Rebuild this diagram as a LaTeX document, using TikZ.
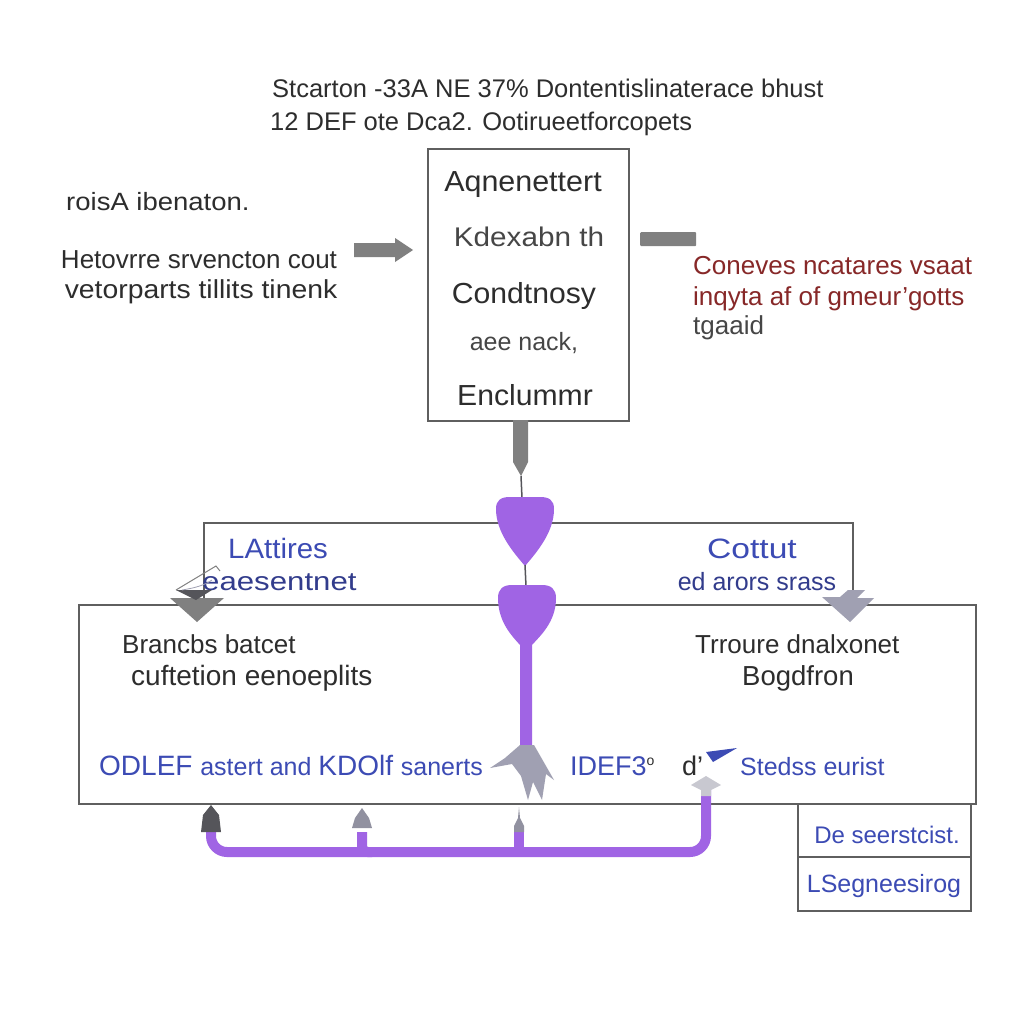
\documentclass[tikz,border=0pt]{standalone}
\usepackage{fontspec}
\setmainfont{Liberation Sans}
\usetikzlibrary{calc}
\definecolor{txt}{RGB}{45,45,45}
\definecolor{txtl}{RGB}{70,70,70}
\definecolor{bord}{RGB}{95,95,95}
\definecolor{blu}{RGB}{60,75,180}
\definecolor{bludk}{RGB}{50,60,140}
\definecolor{redt}{RGB}{135,40,40}
\definecolor{purp}{RGB}{160,100,228}
\definecolor{garr}{RGB}{128,128,128}
\definecolor{garl}{RGB}{160,160,178}
\definecolor{gard}{RGB}{85,85,90}
\definecolor{garp}{RGB}{200,200,208}
\tikzset{
  box/.style={draw=bord,line width=1.8pt,inner sep=0pt,anchor=north west},
  tl/.style={inner sep=0pt,anchor=base west,text=txt},
  tc/.style={inner sep=0pt,anchor=base,text=txt},
  purpline/.style={draw=purp,line width=10pt},
  thin/.style={draw=bord,line width=1.5pt},
}
\newcommand\fs[1]{\fontsize{#1}{#1}\selectfont}
\newcommand\sx[2]{\scalebox{#1}[1]{#2}}
\begin{document}
\begin{tikzpicture}[x=1pt,y=-1pt]
\useasboundingbox (0,0) rectangle (1024,1024);
\fill[white] (0,0) rectangle (1024,1024);

% title
\node[tl] (t1) at (272,98) {\fs{25.5}Stcarton -33A NE 37\% Dontentislinaterace bhust};
\node[tl] (t2) at (270,131) {\fs{25.5}12 DEF ote Dca2. Ootirueetforcopets};

% top box
\node[box,minimum width=201pt,minimum height=272pt] (topbox) at (427,148) {};
\node[tc] (a1) at (523,192) {\fs{29}\sx{1.05}{Aqnenettert}};
\node[tc,text=txtl] (a2) at (529,247) {\fs{27}\sx{1.1}{Kdexabn th}};
\node[tc] (a3) at (524,303) {\fs{29}\sx{1.04}{Condtnosy}};
\node[tc,text=txtl] (a4) at (524,350) {\fs{25}aee nack,};
\node[tc] (a5) at (525,405) {\fs{29}\sx{1.04}{Enclummr}};

% left texts
\node[tl] (l1) at (66,211) {\fs{25}\sx{1.1}{roisA ibenaton.}};
\node[tc] (l2) at (199,268) {\fs{26}Hetovrre srvencton cout};
\node[tc] (l3) at (201,298) {\fs{26}\sx{1.09}{vetorparts tillits tinenk}};
\coordinate (arrS) at (354,250);
\fill[garr] (arrS) ++(0,-7) -- ++(41,0) -- ++(0,-5) -- (413,250) -- (395,262) -- (395,257) -- (354,257) -- cycle;

% right bar and red texts
\node[fill=garr,minimum width=56pt,minimum height=14pt,inner sep=0pt,rounded corners=1pt,anchor=north west] (rbar) at (640,232) {};
\node[tl,text=redt] (r1) at (693,274) {\fs{26}Coneves ncatares vsaat};
\node[tl,text=redt] (r2) at (693,305) {\fs{26}inqyta af of gmeur'gotts};
\node[tl,text=txtl] (r3) at (693,334) {\fs{26}tgaaid};

% middle box and lower box
\node[box,minimum width=649pt,minimum height=82pt] (midbox) at (203,522) {};
\node[box,minimum width=897pt,minimum height=199pt] (lowbox) at (78,604) {};
\node[box,minimum width=173pt,minimum height=107pt] (tabbox) at (797,803) {};
\draw[thin] (tabbox.west |- 0,857) coordinate (tdl) -- (tdl -| tabbox.east);

% connector from top box down to purple shapes
\fill[garr] (513,420) -- (528,420) -- (528,462) -- (521,476) -- (513,462) -- cycle;
\draw[line width=1.5pt,draw=gard] (521,476) -- (522,498);

% purple shape 1
\fill[purp] (496,509) .. controls (496,500) and (501,497) .. (510,497) -- (540,497)
  .. controls (549,497) and (554,500) .. (554,509)
  .. controls (554,532) and (537,552) .. (525,566)
  .. controls (513,552) and (496,532) .. (496,509) -- cycle;
\draw[line width=1.5pt,draw=gard] (525,565) -- (526,586);
% purple shape 2 with stem
\fill[purp] (498,598) .. controls (498,589) and (503,585) .. (512,585) -- (542,585)
  .. controls (551,585) and (556,589) .. (556,598)
  .. controls (556,622) and (540,636) .. (532,645) -- (532,748) -- (520,748) -- (520,645)
  .. controls (512,636) and (498,622) .. (498,598) -- cycle;
% gray crown arrow at stem end
\fill[garl] (520,745) -- (534,745) -- (554,780) -- (546,774) -- (542,800) -- (533,782) -- (528,800) -- (521,776) -- (512,764) -- (490,768) -- (505,758) -- cycle;

% middle box texts
\node[tl,text=blu] (m1) at (228,558) {\fs{28}\sx{1.05}{LAttires}};
\node[tl,text=bludk] (m2) at (202,590) {\fs{26}\sx{1.2}{eaesentnet}};
\node[tc,text=blu] (m3) at (752,558) {\fs{28}\sx{1.2}{Cottut}};
\node[tc,text=bludk] (m4) at (757,590) {\fs{25}ed arors srass};

% down triangles between middle and lower box
\fill[garr] (170,598) -- (224,598) -- (197,622) -- cycle;
\fill[gard] (176,590) -- (212,590) -- (196,600) -- cycle;
\draw[line width=1pt,draw=garr] (176,590) -- (216,566) -- (220,571);
\draw[line width=0.8pt,draw=garl] (182,590) .. controls (195,588) and (205,585) .. (212,580);
\fill[garl] (822,597) -- (840,597) -- (848,590) -- (865,590) -- (857,598) -- (874,598) -- (850,622) -- cycle;

% lower box texts
\node[tl] (b1) at (122,653) {\fs{26}Brancbs batcet};
\node[tl] (b2) at (131,685) {\fs{28}cuftetion eenoeplits};
\node[tl] (b3) at (695,653) {\fs{26}Trroure dnalxonet};
\node[tc] (b4) at (798,685) {\fs{27.5}Bogdfron};
\node[tl,text=blu] (b5) at (99,775) {\fs{28}ODLEF \fs{25}astert and \fs{28}KDOlf \fs{25}sanerts};
\node[tl,text=blu] (b6) at (570,775) {\fs{27}IDEF3\textsuperscript{\fs{14}\textcolor{txt}{o}}\quad\textcolor{txt}{d'}};
\fill[blu] (706,752) -- (737,748) -- (713,762) -- cycle;
\node[tl,text=blu] (b7) at (740,775) {\fs{25}Stedss eurist};

% table texts
\node[tc,text=blu] (d1) at (887,843) {\fs{24}De seerstcist.};
\node[tc,text=blu] (d2) at (884,892) {\fs{25}LSegneesirog};

% bottom purple connector
\coordinate (q0) at (211,832);
\coordinate (q1) at (362,832);
\coordinate (q2) at (519,832);
\coordinate (q3) at (706,790);
\draw[purpline,rounded corners=16pt] (q3) -- (706,852) -- (211,852) -- (q0);
\draw[purpline,rounded corners=6pt] (q1) -- (362,852) -- (372,852);
\draw[purpline] (q2) -- (519,850);
% arrowheads
\fill[gard] (201,832) -- (203,815) -- (211,805) -- (219,815) -- (221,832) -- cycle;
\fill[garl!80!gard] (352,828) -- (355,818) -- (362,808) -- (369,818) -- (372,828) -- cycle;
\fill[garl!80!gard] (514,832) -- (514,826) -- (518,818) -- (519,807) -- (520,818) -- (524,826) -- (524,832) -- cycle;
\fill[garp] (691,785) -- (706,776) -- (721,785) -- (711,790) -- (711,796) -- (701,796) -- (701,790) -- cycle;
\end{tikzpicture}
\end{document}
